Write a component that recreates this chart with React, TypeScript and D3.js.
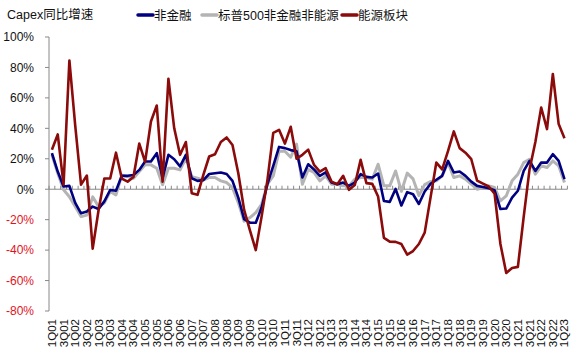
import React from "react";
import * as d3 from "d3";

const years = d3.range(1, 24);
const quarters: string[] = [];
years.forEach((y) => {
  for (let q = 1; q <= 4; q++) {
    if (y === 23 && q > 1) break;
    quarters.push(`${q}Q${String(y).padStart(2, "0")}`);
  }
});

const nonFin = [
  23.7, 11.6, 1.8, 2.2, -9, -15.8, -14.7, -11.4, -13, -8, -0.5, -1, 8.8, 8.8, 9.4, 12.7, 18.2, 18.2, 23.7, 7.2,
  22.6, 19.7, 15, 22.6, 7.2, 5.5, 6, 10, 10.5, 11, 10, 5.5, -5.5, -19.7, -22, -22, -12, 3.3, 15.4, 27.8,
  27, 25.7, 25, 7.7, 16.4, 13, 8.8, 11, 4.4, 3.3, 4.4, 2.2, 4.4, 9.9, 8.1, 7.7, 10.3, -7.7, -8.3, 0.2,
  -10.7, -1.9, -3.3, -9.7, -1.5, 3.5, 6.2, 8.8, 18.6, 11, 11.6, 8.8, 5, 2.2, 1.5, 0.7, -0.7, -13, -12.7, -5.5,
  -1, 12, 18.6, 12, 17.5, 17.5, 23, 18.6, 6.6,
];

const sp500 = [
  22.6, 10.5, -0.4, -5, -11.4, -18, -17, -5, -11.4, -9, -1.5, -3.7, 9.4, 8.3, 7.2, 11.6, 16, 16, 13.8, 2.9,
  13.8, 13.8, 12.7, 20.4, 8.3, 7.2, 6, 7.7, 7.7, 5.5, 4.4, 1, -8.8, -21, -18.6, -15.4, -9.9, 3.3, 8.8, 25,
  25, 21, 29.6, 3.3, 13, 11, 5.5, 8.8, 3.3, 3.3, 2.2, 2.2, 6.6, 7.7, 7.7, 6.6, 16.4, 2.2, 2.2, 12,
  -1.4, 10.6, 6.8, -4.2, 3, 5, 5.5, 8.8, 17.5, 7.7, 8.8, 6.6, 3.3, 0, 1.1, 2.2, 1.1, -7.7, -4.4, 5.5,
  9.9, 17.5, 19.7, 9.9, 15.4, 14.3, 18.6, 15.4, 4.4,
];

const energy = [
  25.9, 36, 3, 84.6, 42, 3, 9, -39, -14, 7, 7, 24, 7, 5, 8, 30, 18, 44.5, 55, 5,
  72.6, 40, 22.6, 31, -2.6, -3.7, 9.4, 21.5, 23, 31, 34, 29, 10.5, -13.6, -27, -40, -18, 6, 37, 39,
  30, 41, 20, 22.6, 26, 16, 11.6, 13.8, 5, 3.3, 8.8, -0.4, 2.8, 19.3, 4, 3.5, -4.8, -32, -34.4, -34.6,
  -36, -43, -40.6, -36, -28.5, -5.5, 17.5, 13, 25, 38, 27, 24, 19.7, 5.7, 3.7, 1.8, -3, -36, -55, -51.8,
  -51, -18, 13, 31, 53.7, 39.5, 75.7, 42.8, 33.5,
];

const yTicks = [100, 80, 60, 40, 20, 0, -20, -40, -60, -80];
const xLabels = quarters.filter((_, i) => i % 2 === 0);

const seriesNames = ["非金融", "标普500非金融非能源", "能源板块"];
const seriesColors = ["#000080", "#B4B4B4", "#8B0A0A"];

const W = 578;
const H = 358;
const FONT = "Arial, 'Liberation Sans', 'Noto Sans CJK SC', sans-serif";

export default function App() {
  const left = 49;
  const right = 567.4;
  const x = d3.scaleBand<string>().domain(quarters).range([left, right]);
  const y = d3.scaleLinear().domain([-80, 100]).range([311, 37]);
  const cx = (q: string) => (x(q) as number) + x.bandwidth() / 2;
  const line = d3
    .line<number>()
    .x((_, i) => cx(quarters[i]))
    .y((d) => y(d));

  const series = [
    { name: seriesNames[1], data: sp500, color: seriesColors[1], w: 3 },
    { name: seriesNames[0], data: nonFin, color: seriesColors[0], w: 2.6 },
    { name: seriesNames[2], data: energy, color: seriesColors[2], w: 2.6 },
  ];

  const legend = [
    { name: seriesNames[0], color: seriesColors[0], x: 138 },
    { name: seriesNames[1], color: seriesColors[1], x: 202 },
    { name: seriesNames[2], color: seriesColors[2], x: 342 },
  ];

  const boundaries = d3.range(quarters.length + 1).map((k) => left + k * x.step());

  return (
    <svg
      width={W}
      height={H}
      style={{ position: "absolute", left: 0, top: 0, background: "#fff" }}
      fontFamily={FONT}
    >
      <rect width={W} height={H} fill="#fff" />
      <text x={7} y={19} fontSize={12.5} fill="#111">
        Capex同比增速
      </text>
      {legend.map((l) => (
        <g key={l.name}>
          <line x1={l.x} x2={l.x + 15} y1={15} y2={15} stroke={l.color} strokeWidth={3.5} strokeLinecap="round" />
          <text x={l.x + 16} y={20} fontSize={12.5} fill="#111">
            {l.name}
          </text>
        </g>
      ))}

      {/* y axis */}
      <line x1={left} x2={left} y1={y(100)} y2={y(-80)} stroke="#888" strokeWidth={1} />
      {yTicks.map((t) => (
        <g key={t}>
          <line x1={left - 4} x2={left} y1={y(t)} y2={y(t)} stroke="#888" />
          <text
            x={34}
            y={y(t)}
            dy="0.36em"
            textAnchor="end"
            fontSize={12}
            fill={t < 0 ? "#E0141E" : "#111"}
          >
            {t}%
          </text>
        </g>
      ))}

      {/* zero axis */}
      <line x1={left} x2={right} y1={y(0)} y2={y(0)} stroke="#888" strokeWidth={1} />
      {boundaries.map((bx, k) => (
        <line key={k} x1={bx} x2={bx} y1={y(0)} y2={y(0) - 3.5} stroke="#888" strokeWidth={1} />
      ))}

      {series.map((s) => (
        <path
          key={s.name}
          d={line(s.data) || ""}
          fill="none"
          stroke={s.color}
          strokeWidth={s.w}
          strokeLinejoin="round"
        />
      ))}

      {xLabels.map((q) => (
        <text
          key={q}
          transform={`translate(${cx(q) + 4},${319}) rotate(-90)`}
          textAnchor="end"
          fontSize={11.5}
          fill="#111"
        >
          {q}
        </text>
      ))}
    </svg>
  );
}
